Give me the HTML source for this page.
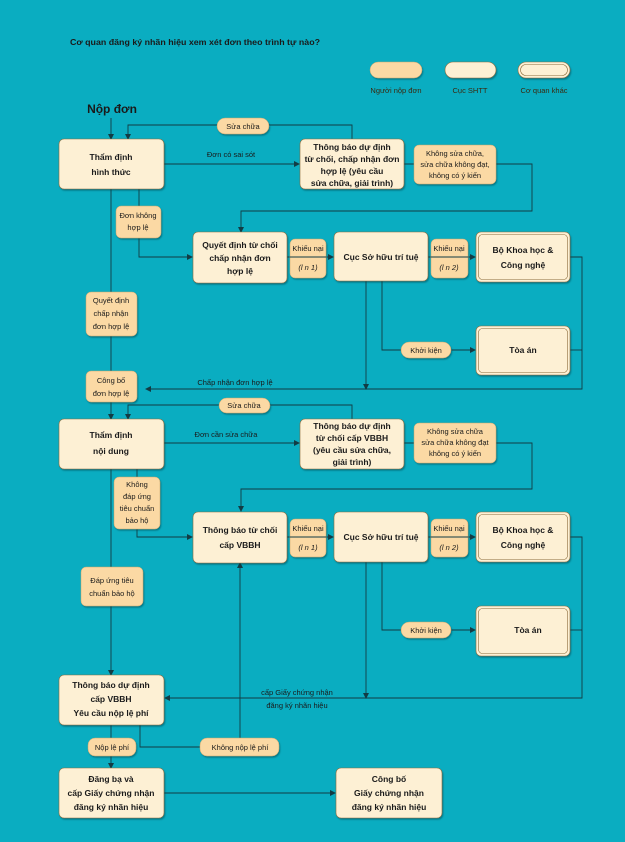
<!DOCTYPE html>
<html><head><meta charset="utf-8"><style>
html,body{margin:0;padding:0;background:#0aadc1}
svg{display:block}
text{font-family:"Liberation Sans",sans-serif;fill:#1a1a1a}
.b{font-weight:bold;font-size:8.5px}
.c{font-size:7.5px;fill:#3a2a10}
.ln{stroke:#123c44;stroke-width:0.9;fill:none}
.box{fill:#fdf0d4;stroke:#8a6a3a;stroke-width:0.6;filter:url(#sh)}
.chip{fill:#fbd9a4;stroke:#c9a56a;stroke-width:0.5;filter:url(#sh)}
</style></head><body>
<svg width="625" height="842" viewBox="0 0 625 842" xmlns="http://www.w3.org/2000/svg">
<defs>
<filter id="sh" x="-10%" y="-10%" width="130%" height="140%"><feDropShadow dx="1" dy="1.5" stdDeviation="0.8" flood-color="#004650" flood-opacity="0.5"/></filter>
<marker id="a" markerWidth="6" markerHeight="6" refX="5" refY="3" orient="auto" markerUnits="userSpaceOnUse"><path d="M0,0 L6,3 L0,6z" fill="#123c44"/></marker>
</defs>
<rect width="625" height="842" fill="#0aadc1"/>
<text x="70" y="45" style="font-weight:bold;font-size:8.5px" textLength="250" lengthAdjust="spacingAndGlyphs">Cơ quan đăng ký nhãn hiệu xem xét đơn theo trình tự nào?</text>
<!-- legend -->
<rect x="370" y="62" width="52" height="16" rx="8" class="chip"/>
<rect x="445" y="62" width="51" height="16" rx="8" class="box"/>
<rect x="518" y="62" width="52" height="16" rx="8" class="box"/>
<rect x="520.5" y="64.5" width="47" height="11" rx="5.5" fill="none" stroke="#8a6a3a" stroke-width="0.6"/>
<text x="396" y="93" class="c" text-anchor="middle" fill="#333">Người nộp đơn</text>
<text x="470" y="93" class="c" text-anchor="middle">Cục SHTT</text>
<text x="544" y="93" class="c" text-anchor="middle">Cơ quan khác</text>
<text x="112" y="113" text-anchor="middle" style="font-weight:bold;font-size:12px">Nộp đơn</text>

<!-- connectors -->
<g class="ln">
<path d="M111 118 V139" marker-end="url(#a)"/>
<path d="M352 139 V125 H128 V139" marker-end="url(#a)"/>
<path d="M164 164 H299" marker-end="url(#a)"/>
<path d="M404 164 H532 V211 H241 V232" marker-end="url(#a)"/>
<path d="M139 189 V257 H192" marker-end="url(#a)"/>
<path d="M111 189 V419" marker-end="url(#a)"/>
<path d="M287 257 H333" marker-end="url(#a)"/>
<path d="M428 257 H475" marker-end="url(#a)"/>
<path d="M570 257 H582 V389 H146" marker-end="url(#a)"/>
<path d="M570 350 H582"/>
<path d="M366 280 V389" marker-end="url(#a)"/>
<path d="M382 280 V350 H475" marker-end="url(#a)"/>
<path d="M352 419 V405 H128 V419" marker-end="url(#a)"/>
<path d="M164 443 H299" marker-end="url(#a)"/>
<path d="M404 443 H532 V489 H241 V511" marker-end="url(#a)"/>
<path d="M137 469 V537 H192" marker-end="url(#a)"/>
<path d="M111 469 V675" marker-end="url(#a)"/>
<path d="M287 537 H333" marker-end="url(#a)"/>
<path d="M428 537 H475" marker-end="url(#a)"/>
<path d="M570 537 H582 V698 H165" marker-end="url(#a)"/>
<path d="M570 630 H582"/>
<path d="M366 562 V698" marker-end="url(#a)"/>
<path d="M382 562 V630 H475" marker-end="url(#a)"/>
<path d="M140 725 V747 H240 V563" marker-end="url(#a)"/>
<path d="M111 725 V768" marker-end="url(#a)"/>
<path d="M164 793 H335" marker-end="url(#a)"/>
</g>

<!-- boxes -->
<g class="b" text-anchor="middle">
<rect x="59" y="139" width="105" height="50" rx="5" class="box"/>
<text x="111" y="160">Thẩm định</text><text x="111" y="175">hình thức</text>
<rect x="300" y="139" width="104" height="50" rx="5" class="box"/>
<text x="352" y="150">Thông báo dự định</text><text x="352" y="162">từ chối, chấp nhận đơn</text><text x="352" y="174">hợp lệ (yêu cầu</text><text x="352" y="186">sửa chữa, giải trình)</text>
<rect x="193" y="232" width="94" height="51" rx="5" class="box"/>
<text x="240" y="248">Quyết định từ chối</text><text x="240" y="261">chấp nhận đơn</text><text x="240" y="274">hợp lệ</text>
<rect x="334" y="232" width="94" height="49" rx="5" class="box"/>
<text x="381" y="260">Cục Sở hữu trí tuệ</text>
<rect x="476" y="232" width="94" height="50" rx="5" class="box"/>
<rect x="478.5" y="234.5" width="89" height="45" rx="4" fill="none" stroke="#8a6a3a" stroke-width="0.6"/>
<text x="523" y="253">Bộ Khoa học &amp;</text><text x="523" y="268">Công nghệ</text>
<rect x="476" y="326" width="94" height="49" rx="5" class="box"/>
<rect x="478.5" y="328.5" width="89" height="44" rx="4" fill="none" stroke="#8a6a3a" stroke-width="0.6"/>
<text x="523" y="353">Tòa án</text>

<rect x="59" y="419" width="105" height="50" rx="5" class="box"/>
<text x="111" y="438">Thẩm định</text><text x="111" y="454">nội dung</text>
<rect x="300" y="419" width="104" height="50" rx="5" class="box"/>
<text x="352" y="429">Thông báo dự định</text><text x="352" y="441">từ chối cấp VBBH</text><text x="352" y="453">(yêu cầu sửa chữa,</text><text x="352" y="465">giải trình)</text>
<rect x="193" y="512" width="94" height="51" rx="5" class="box"/>
<text x="240" y="533">Thông báo từ chối</text><text x="240" y="548">cấp VBBH</text>
<rect x="334" y="512" width="94" height="50" rx="5" class="box"/>
<text x="381" y="540">Cục Sở hữu trí tuệ</text>
<rect x="476" y="512" width="94" height="50" rx="5" class="box"/>
<rect x="478.5" y="514.5" width="89" height="45" rx="4" fill="none" stroke="#8a6a3a" stroke-width="0.6"/>
<text x="523" y="533">Bộ Khoa học &amp;</text><text x="523" y="548">Công nghệ</text>
<rect x="476" y="606" width="94" height="50" rx="5" class="box"/>
<rect x="478.5" y="608.5" width="89" height="45" rx="4" fill="none" stroke="#8a6a3a" stroke-width="0.6"/>
<text x="528" y="633">Tòa án</text>

<rect x="59" y="675" width="105" height="50" rx="5" class="box"/>
<text x="111" y="688">Thông báo dự định</text><text x="111" y="702">cấp VBBH</text><text x="111" y="716">Yêu cầu nộp lệ phí</text>
<rect x="59" y="768" width="105" height="50" rx="5" class="box"/>
<text x="111" y="782">Đăng bạ và</text><text x="111" y="796">cấp Giấy chứng nhận</text><text x="111" y="810">đăng ký nhãn hiệu</text>
<rect x="336" y="768" width="106" height="50" rx="5" class="box"/>
<text x="389" y="782">Công bố</text><text x="389" y="796">Giấy chứng nhận</text><text x="389" y="810">đăng ký nhãn hiệu</text>
</g>

<!-- chips -->
<g class="c" text-anchor="middle">
<rect x="217" y="118" width="52" height="16" rx="8" class="chip"/><text x="243" y="129">Sửa chữa</text>
<rect x="414" y="145" width="82" height="39" rx="5" class="chip"/>
<text x="455" y="156">Không sửa chữa,</text><text x="455" y="167">sửa chữa không đạt,</text><text x="455" y="178">không có ý kiến</text>
<rect x="116" y="206" width="45" height="32" rx="5" class="chip"/><text x="138" y="218">Đơn không</text><text x="138" y="230">hợp lệ</text>
<rect x="290" y="239" width="36" height="39" rx="5" class="chip"/>
<text x="308" y="251">Khiếu nại</text><text x="308" y="270" font-style="italic">(l  n 1)</text>
<rect x="431" y="239" width="37" height="39" rx="5" class="chip"/>
<text x="449" y="251">Khiếu nại</text><text x="449" y="270" font-style="italic">(l  n 2)</text>
<rect x="86" y="292" width="51" height="44" rx="5" class="chip"/>
<text x="111" y="303">Quyết định</text><text x="111" y="316">chấp nhận</text><text x="111" y="329">đơn hợp lệ</text>
<rect x="401" y="342" width="50" height="16" rx="8" class="chip"/><text x="426" y="353">Khởi kiện</text>
<rect x="86" y="371" width="51" height="31" rx="5" class="chip"/><text x="111" y="383">Công bố</text><text x="111" y="396">đơn hợp lệ</text>
<rect x="219" y="398" width="51" height="15" rx="7.5" class="chip"/><text x="244" y="408">Sửa chữa</text>
<rect x="414" y="423" width="82" height="40" rx="5" class="chip"/>
<text x="455" y="434">Không sửa chữa</text><text x="455" y="445">sửa chữa không đạt</text><text x="455" y="456">không có ý kiến</text>
<rect x="114" y="477" width="46" height="52" rx="5" class="chip"/>
<text x="137" y="487">Không</text><text x="137" y="499">đáp ứng</text><text x="137" y="511">tiêu chuẩn</text><text x="137" y="523">bảo hộ</text>
<rect x="290" y="519" width="36" height="38" rx="5" class="chip"/>
<text x="308" y="531">Khiếu nại</text><text x="308" y="550" font-style="italic">(l  n 1)</text>
<rect x="431" y="519" width="37" height="38" rx="5" class="chip"/>
<text x="449" y="531">Khiếu nại</text><text x="449" y="550" font-style="italic">(l  n 2)</text>
<rect x="81" y="567" width="62" height="39" rx="5" class="chip"/><text x="112" y="583">Đáp ứng tiêu</text><text x="112" y="596">chuẩn bảo hộ</text>
<rect x="401" y="622" width="50" height="16" rx="8" class="chip"/><text x="426" y="633">Khởi kiện</text>
<rect x="88" y="738" width="48" height="18" rx="7" class="chip"/><text x="112" y="750">Nộp lệ phí</text>
<rect x="200" y="738" width="79" height="18" rx="7" class="chip"/><text x="240" y="750">Không nộp lệ phí</text>
</g>
<g class="c" text-anchor="middle" style="fill:#12404a">
<text x="231" y="157">Đơn có sai sót</text>
<text x="235" y="385">Chấp nhận đơn hợp lệ</text>
<text x="226" y="437">Đơn cần sửa chữa</text>
<text x="297" y="695">cấp Giấy chứng nhận</text>
<text x="297" y="708">đăng ký nhãn hiệu</text>
</g>
<line x1="290" y1="257" x2="326" y2="257" class="ln"/>
<line x1="431" y1="257" x2="468" y2="257" class="ln"/>
<line x1="290" y1="537" x2="326" y2="537" class="ln"/>
<line x1="431" y1="537" x2="468" y2="537" class="ln"/>
</svg>
</body></html>
